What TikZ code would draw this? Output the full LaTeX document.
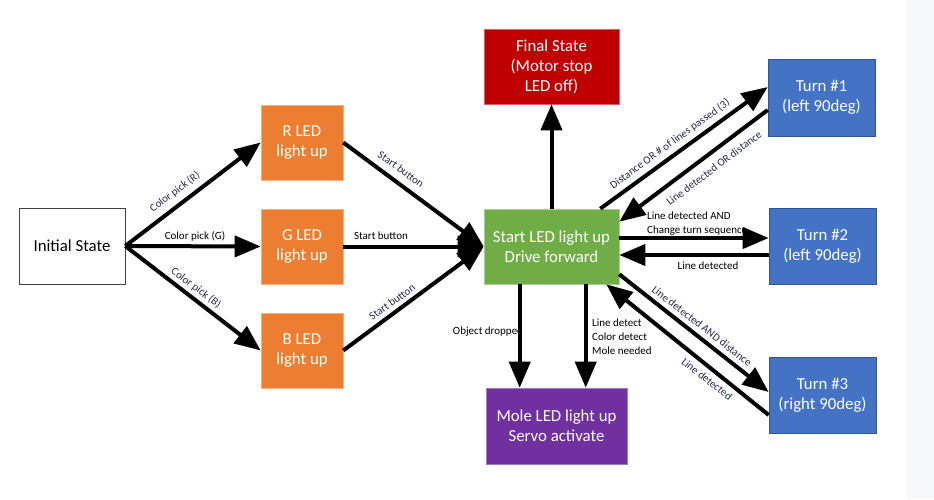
\documentclass[tikz,border=0pt]{standalone}
\usepackage{fontspec}
\setmainfont{Carlito}
\usetikzlibrary{arrows.meta,calc}
\definecolor{orng}{HTML}{ED7D31}
\definecolor{orngb}{HTML}{F4B183}
\definecolor{grn}{HTML}{70AD47}
\definecolor{grnb}{HTML}{A9D18E}
\definecolor{redc}{HTML}{C00000}
\definecolor{redb}{HTML}{E06060}
\definecolor{purp}{HTML}{7030A0}
\definecolor{purpb}{HTML}{A07AC0}
\definecolor{blu}{HTML}{4472C4}
\definecolor{blub}{HTML}{2F5597}
\definecolor{strip}{HTML}{F7F8FA}
\definecolor{navy}{HTML}{1F2D4D}
\tikzset{
  box/.style={rectangle, inner sep=0pt, align=center, text=white, line width=0.6pt,
    font=\fontsize{16.8}{20}\selectfont},
  arr/.style={line width=4pt, -{Triangle[length=26pt,width=21pt]}},
  lbl/.style={font=\fontsize{11}{14}\selectfont, inner sep=0pt, text=black},
  rlbl/.style={lbl, text=navy},
}
\begin{document}
\begin{tikzpicture}[x=1pt,y=-1pt]
\useasboundingbox (0,0) rectangle (934,499);
\fill[white] (0,0) rectangle (934,499);
\fill[strip] (907,0) rectangle (934,499);

% nodes
\node[box, draw=black!75, fill=white, text=black, minimum width=106pt, minimum height=76pt] (init) at (72,246) {Initial State};
\node[box, draw=orngb, fill=orng, minimum width=82pt, minimum height=75pt] (R) at (302,142.5) {R LED\\light up};
\node[box, draw=orngb, fill=orng, minimum width=82pt, minimum height=75pt] (G) at (302,246.5) {G LED\\light up};
\node[box, draw=orngb, fill=orng, minimum width=82pt, minimum height=75pt] (B) at (302,350.5) {B LED\\light up};
\node[box, draw=grnb, fill=grn, minimum width=135pt, minimum height=75pt] (start) at (551.5,246.5) {Start LED light up\\Drive forward};
\node[box, draw=redb, fill=redc, minimum width=135pt, minimum height=75pt] (final) at (551.5,66.5) {Final State\\(Motor stop\\LED off)};
\node[box, draw=purpb, fill=purp, minimum width=141pt, minimum height=76pt] (mole) at (556.5,426) {Mole LED light up\\Servo activate};
\node[box, draw=blub, fill=blu, minimum width=107pt, minimum height=77pt] (t1) at (821.5,97.5) {Turn \#1\\(left 90deg)};
\node[box, draw=blub, fill=blu, minimum width=107pt, minimum height=76pt] (t2) at (822.5,246) {Turn \#2\\(left 90deg)};
\node[box, draw=blub, fill=blu, minimum width=107pt, minimum height=76pt] (t3) at (822.5,395) {Turn \#3\\(right 90deg)};

% connectors
\draw[arr] (init.east) -- (R.west);
\draw[arr] (init.east) -- (G.west);
\draw[arr] (init.east) -- (B.west);
\draw[arr] (R.east) -- (start.west);
\draw[arr] (G.east) -- (start.west);
\draw[arr] (B.east) -- (start.west);
\draw[arr] (start.north) -- (final.south);
\draw[arr] ($(start.north east)+(-19,0)$) -- ($(t1.west)+(0,-10.5)$);
\draw[arr] ($(t1.west)+(0,12.5)$) -- ($(start.north east)+(0,13)$);
\draw[arr] ($(start.east)+(0,-8.5)$) -- ($(t2.west)+(0,-8)$);
\draw[arr] ($(t2.west)+(0,9)$) -- ($(start.east)+(0,8.5)$);
\draw[arr] ($(start.south east)+(0,-10)$) -- ($(t3.west)+(0,-3)$);
\draw[arr] ($(t3.west)+(0,20)$) -- ($(start.south east)+(-13,0)$);
\draw[arr] ($(start.south west)+(36,0)$) -- ($(mole.north west)+(34,0)$);
\draw[arr] ($(start.south west)+(102,0)$) -- ($(mole.north west)+(100,0)$);

% labels
\node[rlbl, rotate=37] (cpR) at (175,192) {Color pick (R)};
\node[lbl] (cpG) at (195,236) {Color pick (G)};
\node[rlbl, rotate=-37] (cpB) at (196,288) {Color pick (B)};
\node[rlbl, rotate=-36] (sbR) at (401,169) {Start button};
\node[lbl] (sbG) at (381,236) {Start button};
\node[rlbl, rotate=36] (sbB) at (392,302) {Start button};
\node[rlbl, rotate=36] (dist) at (670,144) {Distance OR \# of lines passed (3)};
\node[rlbl, rotate=37] (ldOR) at (714,168) {Line detected OR distance};
\node[lbl, align=left, anchor=west] (ldAND) at (647,223.5) {Line detected AND\\Change turn sequence};
\node[lbl] (ld2) at (708,266) {Line detected};
\node[rlbl, rotate=-38] (ldANDd) at (702,326) {Line detected AND distance};
\node[rlbl, rotate=-38] (ld3) at (707,379) {Line detected};
\node[lbl] (obj) at (488,332) {Object dropped};
\node[lbl, align=left, anchor=west] (mlbl) at (592,337) {Line detect\\Color detect\\Mole needed};
\end{tikzpicture}
\end{document}
